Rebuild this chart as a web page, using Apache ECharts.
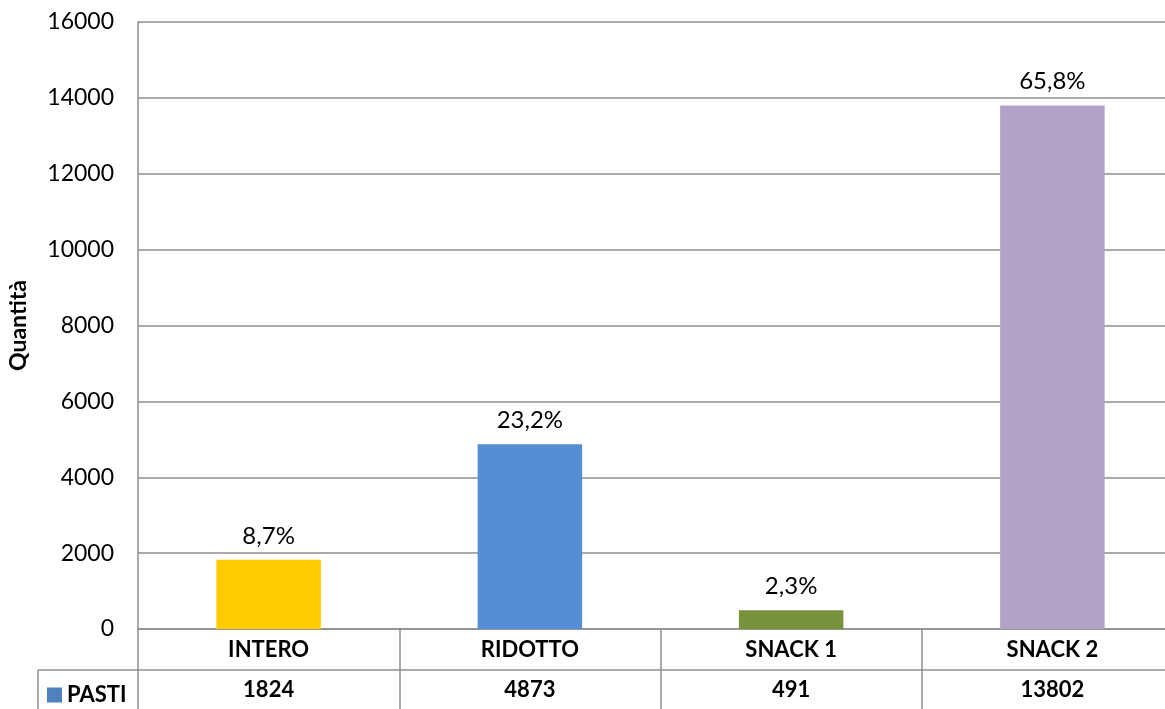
<!DOCTYPE html>
<html>
<head>
<meta charset="utf-8">
<script src="https://cdn.jsdelivr.net/npm/echarts@6/dist/echarts.min.js"></script>
<style>
  html, body { margin: 0; padding: 0; background: #fff; }
  #chart { width: 1165px; height: 709px; }
</style>
</head>
<body>
<div id="chart"></div>
<script>
// dati
var categorie = ['INTERO', 'RIDOTTO', 'SNACK 1', 'SNACK 2'];
var pasti = [1824, 4873, 491, 13802];
var percentuali = ['8,7%', '23,2%', '2,3%', '65,8%'];
var colori = ['#FFCC00', '#558ED5', '#77933C', '#B3A2C7'];
var yTicks = { min: 0, max: 16000, interval: 2000 };

var font = 'Lato, "Open Sans", sans-serif';
var lineCol = '#8E8E8E';

var chart = echarts.init(document.getElementById('chart'));

var option = {
  animation: false,
  textStyle: { fontFamily: font },
  grid: { left: 138, top: 22, right: -18, height: 607, outerBoundsMode: 'none', containLabel: false },
  legend: {
    left: 47, top: 684, padding: 0,
    itemWidth: 15, itemHeight: 15,
    icon: 'rect',
    data: [{ name: 'PASTI', itemStyle: { color: '#4F81BD' } }],
    textStyle: { fontFamily: font, fontSize: 22, fontWeight: 'bold', color: '#000' }
  },
  xAxis: [{
    type: 'category',
    data: categorie,
    axisLine: { lineStyle: { color: lineCol, width: 1.5 } },
    axisTick: { show: true, interval: 0, length: 80, lineStyle: { color: lineCol, width: 1.5 } },
    axisLabel: { interval: 0, margin: 10, fontFamily: font, fontSize: 22, fontWeight: 'bold', color: '#000' }
  }, {
    type: 'category',
    data: categorie,
    position: 'bottom',
    offset: 41,
    axisLine: { lineStyle: { color: lineCol, width: 1.5 } },
    axisTick: { show: false },
    axisLabel: {
      interval: 0, margin: 9, fontFamily: font, fontSize: 22, fontWeight: 'bold', color: '#000',
      formatter: function (v, i) { return String(pasti[i]); }
    }
  }],
  yAxis: {
    type: 'value',
    min: yTicks.min, max: yTicks.max, interval: yTicks.interval,
    name: 'Quantità',
    nameLocation: 'middle',
    nameGap: 108,
    nameTextStyle: { fontFamily: font, fontSize: 23, fontWeight: 'bold', color: '#000' },
    axisLine: { show: true, lineStyle: { color: lineCol, width: 1.5 } },
    axisTick: { show: false },
    axisLabel: {
      margin: 24, fontFamily: font, fontSize: 23, color: '#000',
      formatter: function (v) { return String(v); }
    },
    splitLine: { lineStyle: { color: lineCol, width: 1.5 } }
  },
  series: [{
    name: 'PASTI',
    type: 'bar',
    barWidth: '40%',
    data: pasti.map(function (v, i) {
      return { value: v, itemStyle: { color: colori[i] } };
    }),
    label: {
      show: true, position: 'top', distance: 12,
      fontFamily: font, fontSize: 24, color: '#000',
      formatter: function (p) { return percentuali[p.dataIndex]; }
    }
  }],
  graphic: [
    { type: 'line', shape: { x1: 38, y1: 670, x2: 138, y2: 670 }, style: { stroke: lineCol, lineWidth: 1.5 } },
    { type: 'line', shape: { x1: 38, y1: 670, x2: 38, y2: 709 }, style: { stroke: lineCol, lineWidth: 1.5 } }
  ]
};

chart.setOption(option);
</script>
</body>
</html>
